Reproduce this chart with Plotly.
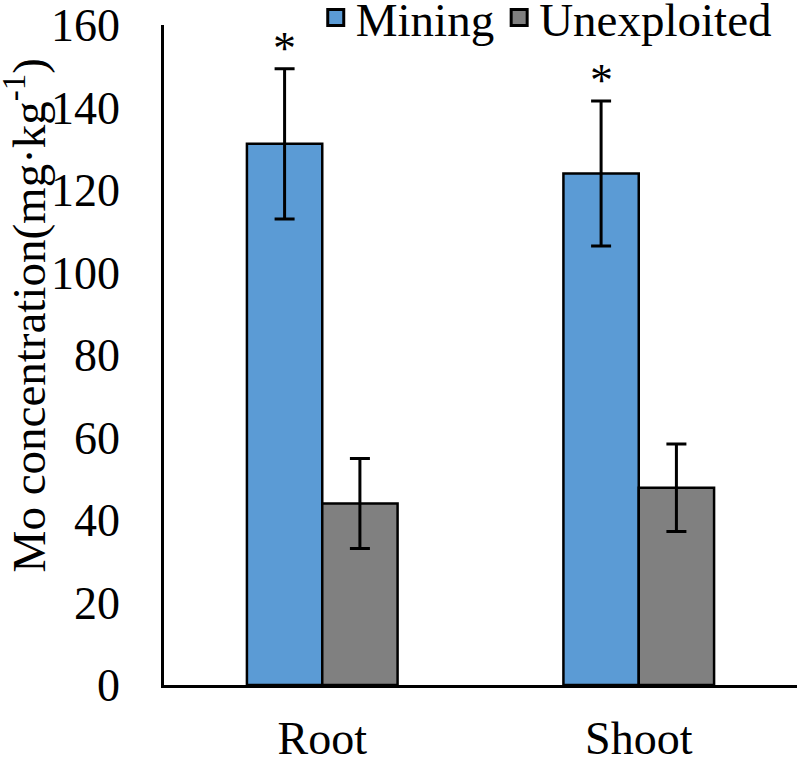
import plotly.graph_objects as go

categories = ["Root", "Shoot"]
mining = [131.2, 124.0]
mining_err = [18.2, 17.6]
unexploited = [44.0, 47.8]
unexploited_err = [10.9, 10.6]
star_labels = ["*", "*"]
y_ticks = [0, 20, 40, 60, 80, 100, 120, 140, 160]
series_names = ["Mining", "Unexploited"]
series_colors = ["#5B9BD5", "#808080"]

FONT = "Liberation Serif, Times New Roman, serif"
FS = 46

fig = go.Figure()
for name, vals, errs, col in zip(series_names, [mining, unexploited],
                                 [mining_err, unexploited_err], series_colors):
    fig.add_trace(go.Bar(
        name=name, x=categories, y=vals, showlegend=False,
        marker=dict(color=col, line=dict(color="black", width=2.5)),
        error_y=dict(type="data", array=errs, color="black", thickness=3, width=10),
    ))
    # legend entry with a larger square symbol
    fig.add_trace(go.Scatter(
        name=name, x=[None], y=[None], mode="markers",
        marker=dict(symbol="square", size=16, color=col, line=dict(color="black", width=3)),
        showlegend=True,
    ))

for i, cat in enumerate(categories):
    fig.add_annotation(
        x=cat, y=mining[i] + mining_err[i], text=star_labels[i],
        xshift=-37.5, yshift=-7, yanchor="bottom", showarrow=False,
        font=dict(family=FONT, size=FS, color="black"),
    )

fig.add_annotation(
    text="Mo concentration(mg·kg<sup>-1</sup>)", textangle=-90,
    xref="paper", yref="paper", x=-0.219, y=0.5606, xanchor="center", yanchor="middle",
    showarrow=False, font=dict(family=FONT, size=47, color="black"),
)

fig.update_layout(
    width=797, height=758,
    margin=dict(l=164, r=0, t=25, b=73, autoexpand=False),
    paper_bgcolor="white", plot_bgcolor="white",
    barmode="group", bargap=0.524, bargroupgap=0,
    font=dict(family=FONT, size=FS, color="black"),
    legend=dict(orientation="h", x=0.968, xanchor="right", y=1.0105, yanchor="middle",
                font=dict(size=47), itemwidth=30, bgcolor="rgba(0,0,0,0)",
                itemsizing="trace"),
    xaxis=dict(showline=True, linecolor="black", linewidth=2.5, ticks="",
               ticklabelstandoff=11, tickfont=dict(size=FS)),
    yaxis=dict(range=[0, 160], tickvals=y_ticks, showline=True, linecolor="black", linewidth=2.5,
               showgrid=False, zeroline=False, ticks="", ticklabelstandoff=32,
               ticklabeloverflow="allow", tickfont=dict(size=FS)),
)

fig.write_html("out.html", config={"displayModeBar": False},
               post_script="document.body.style.margin='0';")
